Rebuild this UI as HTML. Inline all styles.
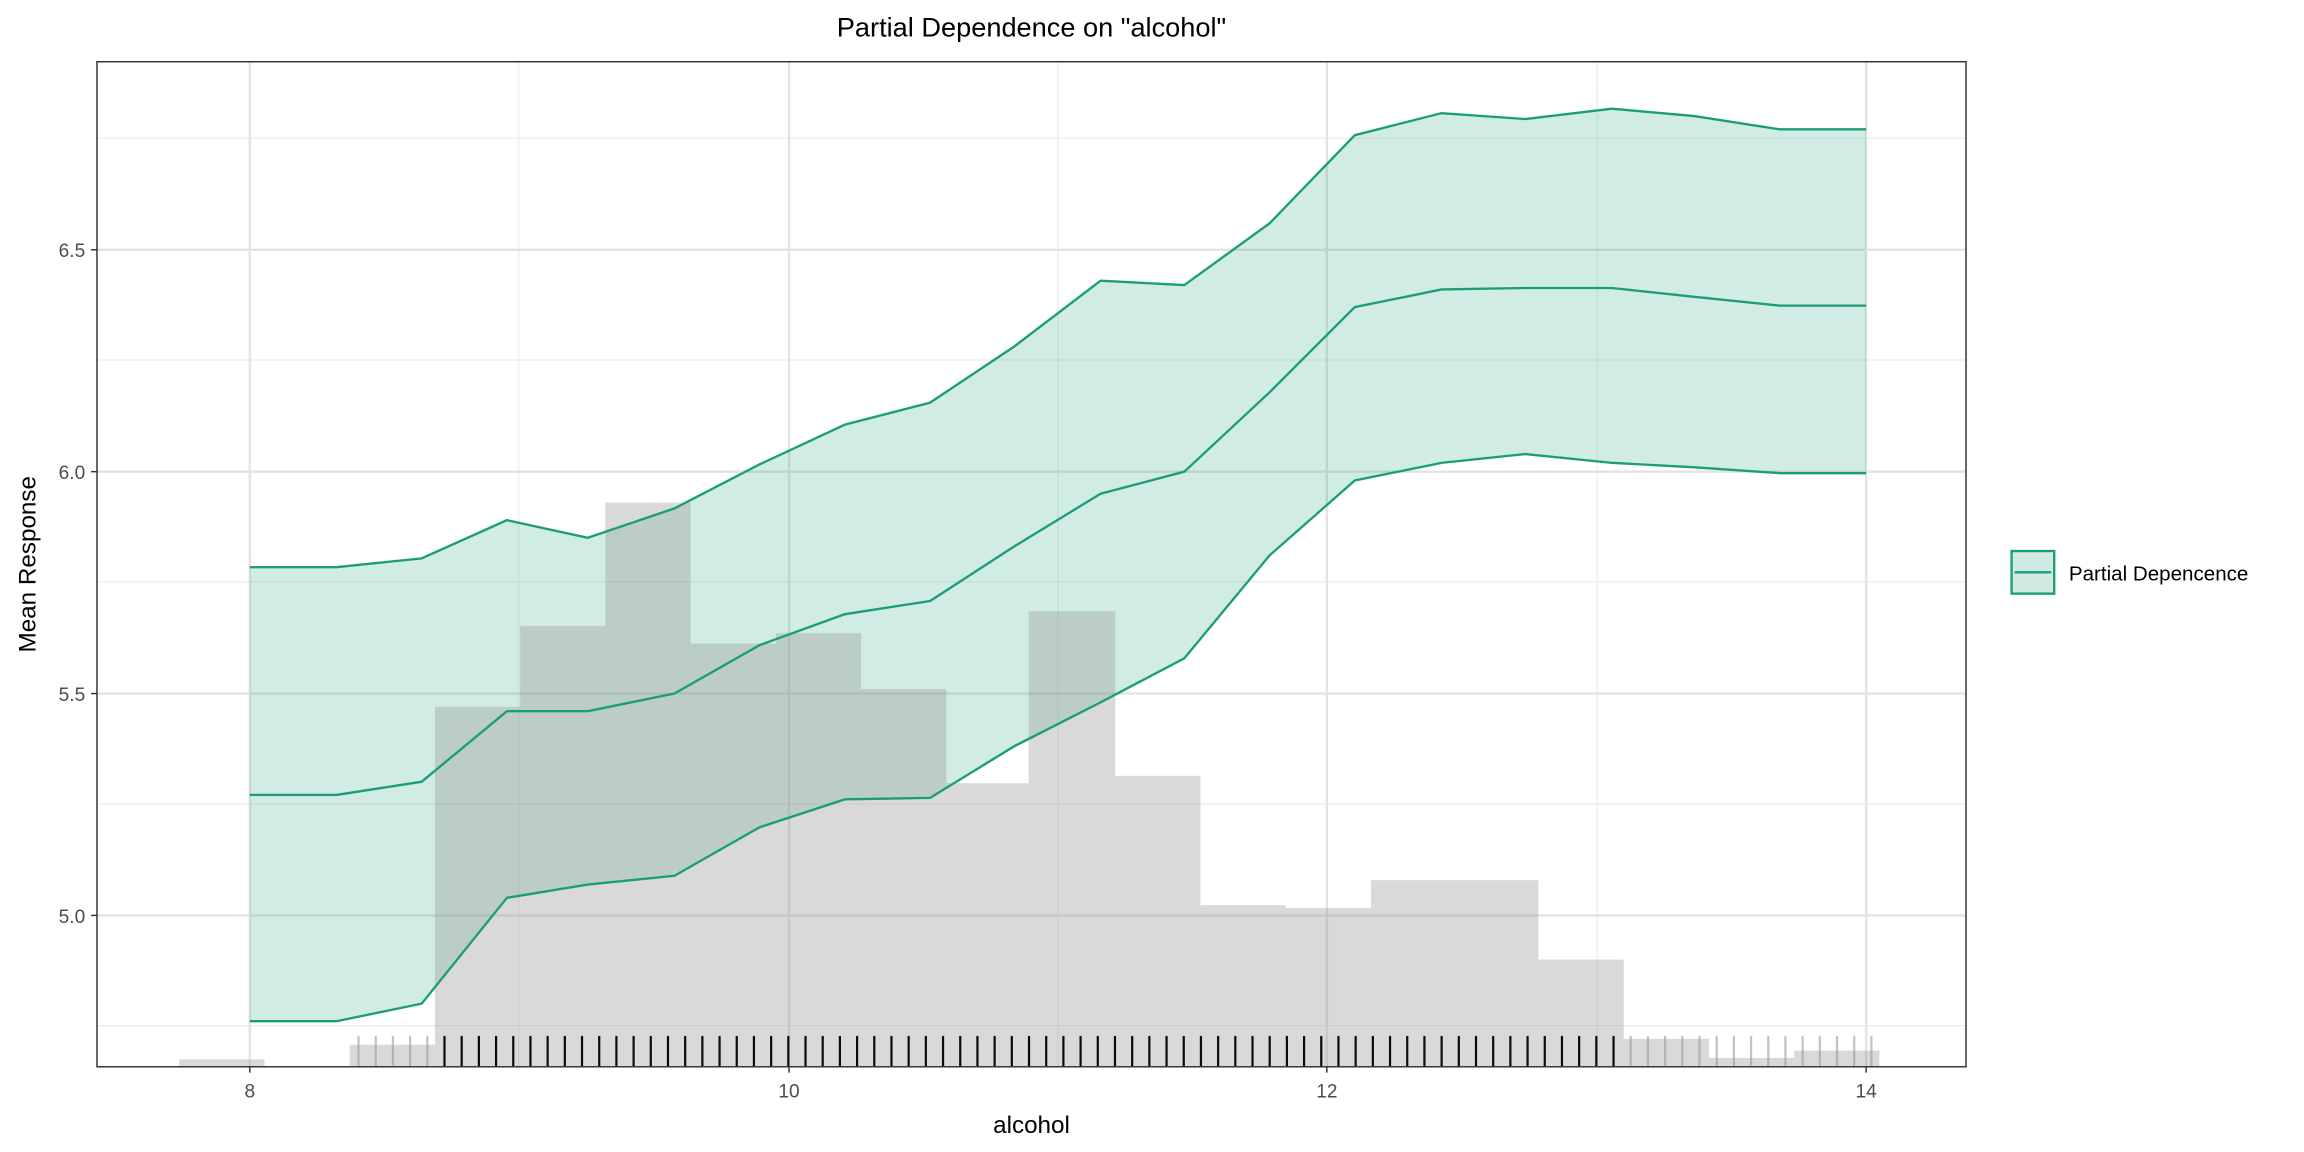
<!DOCTYPE html>
<html><head><meta charset="utf-8"><style>body{margin:0;background:#fff}svg{display:block}text{font-family:"Liberation Sans",sans-serif}</style></head>
<body>
<svg id="s" width="2304" height="1152" viewBox="0 0 1568 784" xmlns="http://www.w3.org/2000/svg">
<rect x="0" y="0" width="1568" height="784" fill="#fff"/>
<g stroke="#ebebeb" stroke-width="0.8">
<line x1="66" x2="1338" y1="698" y2="698"/><line x1="66" x2="1338" y1="547" y2="547"/><line x1="66" x2="1338" y1="396" y2="396"/><line x1="66" x2="1338" y1="245" y2="245"/><line x1="66" x2="1338" y1="94" y2="94"/>
<line y1="42" y2="726" x1="353" x2="353"/><line y1="42" y2="726" x1="720" x2="720"/><line y1="42" y2="726" x1="1087" x2="1087"/>
</g>
<g stroke="#e3e3e3" stroke-width="1.6">
<line x1="66" x2="1338" y1="623" y2="623"/><line x1="66" x2="1338" y1="472" y2="472"/><line x1="66" x2="1338" y1="321" y2="321"/><line x1="66" x2="1338" y1="170" y2="170"/>
<line y1="42" y2="726" x1="170" x2="170"/><line y1="42" y2="726" x1="537" x2="537"/><line y1="42" y2="726" x1="903" x2="903"/><line y1="42" y2="726" x1="1270" x2="1270"/>
</g>
<polygon fill="#1b9e77" fill-opacity="0.2" points="170,386 229,386 287,380 345,354 400,366 459,346 517,316 575,289 633,274 690,236 749,191 806,194 864,152 922,92 981,77 1038,81 1097,74 1153,79 1211,88 1270,88 1270,322 1211,322 1153,318 1097,315 1038,309 981,315 922,327 864,378 806,448 749,478 690,508 633,543 575,544 517,563 459,596 400,602 345,611 287,683 229,695 170,695"/>
<g fill="#999" fill-opacity="0.37" id="hist"></g>
<g fill="none" stroke="#1b9e77" stroke-width="1.6">
<polyline points="170,386 229,386 287,380 345,354 400,366 459,346 517,316 575,289 633,274 690,236 749,191 806,194 864,152 922,92 981,77 1038,81 1097,74 1153,79 1211,88 1270,88"/>
<polyline points="170,541 229,541 287,532 345,484 400,484 459,472 517,439 575,418 633,409 690,372 749,336 806,321 864,267 922,209 981,197 1038,196 1097,196 1153,202 1211,208 1270,208"/>
<polyline points="170,695 229,695 287,683 345,611 400,602 459,596 517,563 575,544 633,543 690,508 749,478 806,448 864,378 922,327 981,315 1038,309 1097,315 1153,318 1211,322 1270,322"/>
</g>
<g id="rug" stroke-width="1.5"></g>
<rect x="66" y="42" width="1272" height="684" fill="none" stroke="#333" stroke-width="1"/>
<g stroke="#333" stroke-width="1">
<line x1="62" x2="66" y1="623" y2="623"/><line x1="62" x2="66" y1="472" y2="472"/><line x1="62" x2="66" y1="321" y2="321"/><line x1="62" x2="66" y1="170" y2="170"/>
<line y1="726" y2="730" x1="170" x2="170"/><line y1="726" y2="730" x1="537" x2="537"/><line y1="726" y2="730" x1="903" x2="903"/><line y1="726" y2="730" x1="1270" x2="1270"/>
</g>
<g fill="#4d4d4d" font-size="13" text-anchor="end">
<text x="58" y="628">5.0</text><text x="58" y="477">5.5</text><text x="58" y="326">6.0</text><text x="58" y="175">6.5</text>
</g>
<g fill="#4d4d4d" font-size="13" text-anchor="middle">
<text x="170" y="747">8</text><text x="537" y="747">10</text><text x="903" y="747">12</text><text x="1270" y="747">14</text>
</g>
<text x="702" y="771" font-size="16.5" text-anchor="middle">alcohol</text>
<text transform="translate(24,384) rotate(-90)" font-size="16.5" text-anchor="middle">Mean Response</text>
<text x="702" y="25" font-size="18.5" text-anchor="middle">Partial Dependence on "alcohol"</text>
<rect x="1369" y="375" width="29" height="29" fill="#d1eae3" stroke="#1b9e77" stroke-width="1.6"/>
<line x1="1371" x2="1396" y1="389.5" y2="389.5" stroke="#1b9e77" stroke-width="1.6"/>
<text x="1408" y="395" font-size="14">Partial Depencence</text>
</svg>
<script>
var ns="http://www.w3.org/2000/svg";
var bars=[[122,180,721],[238,296,711],[296,354,481],[354,412,426],[412,470,342],[470,528,438],[528,586,431],[586,644,469],[644,700,533],[700,759,416],[759,817,528],[817,875,616],[875,933,618],[933,991,599],[991,1047,599],[1047,1105,653],[1105,1163,707],[1163,1221,720],[1221,1279,715]];
var h=document.getElementById("hist");
bars.forEach(function(b){var r=document.createElementNS(ns,"rect");r.setAttribute("x",b[0]);r.setAttribute("y",b[2]);r.setAttribute("width",b[1]-b[0]);r.setAttribute("height",726-b[2]);h.appendChild(r);});
var g=document.getElementById("rug");
for(var x=244;x<=1275;x+=11.7){var l=document.createElementNS(ns,"line");l.setAttribute("x1",x);l.setAttribute("x2",x);l.setAttribute("y1",705);l.setAttribute("y2",726);var dark=(x>=294&&x<=1100);l.setAttribute("stroke",dark?"#000":"#999");l.setAttribute("stroke-opacity",dark?"0.95":"0.6");g.appendChild(l);}
</script>
</body></html>
